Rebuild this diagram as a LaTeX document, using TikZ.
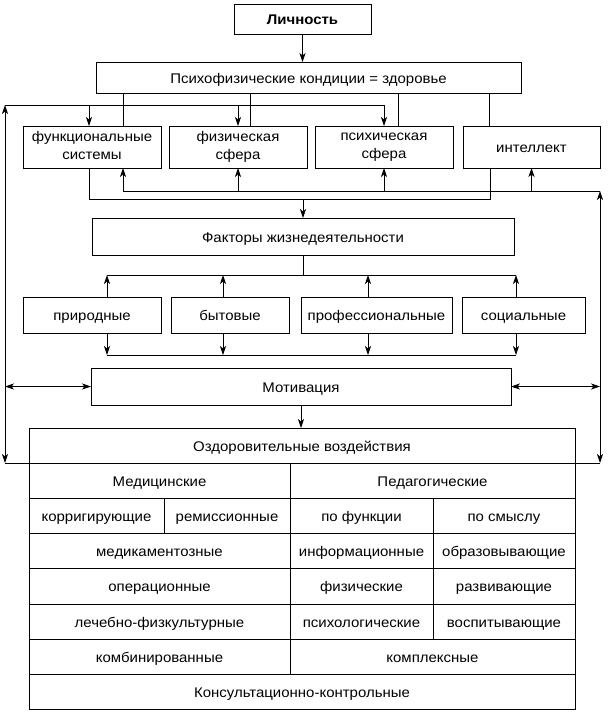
\documentclass[tikz,border=0pt]{standalone}
\usepackage{fontspec}
\setmainfont[FakeStretch=1.07]{Liberation Sans}
\usetikzlibrary{arrows.meta}
\newcommand{\bx}[6]{\node[box, minimum width={(#4-#2)*1pt}, minimum height={(#5-#3)*1pt}] (#1) at ({(#2+#4)/2},{(#3+#5)/2}) {#6};}
\newcommand{\mystrut}{\vrule height 14.5pt depth 3pt width 0pt\relax}
\begin{document}
\begin{tikzpicture}[x=1pt,y=-1pt,line width=0.8pt,
  box/.style={draw, inner sep=0pt, outer sep=0pt, align=center, font=\fontsize{14}{17.5}\selectfont,
    execute at begin node=\mystrut, execute at end node=\mystrut},
  arr/.style={-{Stealth[length=9pt,width=6pt,inset=2.5pt]}},
  arrboth/.style={{Stealth[length=9pt,width=6pt,inset=2.5pt]}-{Stealth[length=9pt,width=6pt,inset=2.5pt]}}]
\useasboundingbox (0,0) rectangle (609,716);
% boxes
\bx{lich}{234}{4}{371}{34}{\bfseries Личность}
\bx{psy}{96}{62}{521}{93}{Психофизические кондиции = здоровье}
\bx{func}{23}{126}{161}{168}{функциональные\\системы}
\bx{fiz}{169}{126}{307}{168}{физическая\\сфера}
\bx{psych}{315}{126}{453}{168}{психическая\\сфера}
\bx{intel}{463}{126}{600}{168}{интеллект}
\bx{fact}{92}{218}{514}{255}{Факторы жизнедеятельности}
\bx{prir}{23}{297}{161}{333}{природные}
\bx{byt}{171}{297}{289}{333}{бытовые}
\bx{prof}{301}{297}{452}{333}{профессиональные}
\bx{soc}{462}{297}{585}{333}{социальные}
\bx{motiv}{91}{368}{511}{405}{Мотивация}
% table
\bx{r1}{29}{428}{575}{463}{Оздоровительные воздействия}
\bx{med}{29}{463}{290}{498}{Медицинские}
\bx{ped}{290}{463}{575}{498}{Педагогические}
\bx{korr}{29}{498}{164}{533}{корригирующие}
\bx{rem}{164}{498}{290}{533}{ремиссионные}
\bx{pofunc}{290}{498}{433}{533}{по функции}
\bx{posm}{433}{498}{575}{533}{по смыслу}
\bx{medik}{29}{533}{290}{568}{медикаментозные}
\bx{inform}{290}{533}{433}{568}{информационные}
\bx{obraz}{433}{533}{575}{568}{образовывающие}
\bx{oper}{29}{568}{290}{604}{операционные}
\bx{fizich}{290}{568}{433}{604}{физические}
\bx{razv}{433}{568}{575}{604}{развивающие}
\bx{lech}{29}{604}{290}{639}{лечебно-физкультурные}
\bx{psihol}{290}{604}{433}{639}{психологические}
\bx{vosp}{433}{604}{575}{639}{воспитывающие}
\bx{komb}{29}{639}{290}{674}{комбинированные}
\bx{kompl}{290}{639}{575}{674}{комплексные}
\bx{kons}{29}{674}{575}{709}{Консультационно-контрольные}
% connectors top
\draw[arr] (lich.south) -- (lich.south |- psy.north);
\draw (psy.south -| 123,0) -- (func.north -| 123,0);
\draw (psy.south -| 250,0) -- (fiz.north -| 250,0);
\draw (psy.south -| 398,0) -- (psych.north -| 398,0);
\draw (psy.south -| 489,0) -- (intel.north -| 489,0);
% left loop
\coordinate (LT) at (5,105);
\coordinate (LB) at (5,463);
\draw[arrboth] (LT) -- (LB);
\draw (LT) -- (LT -| psych.north);
\draw[arr] (LT -| 89,0) -- (func.north -| 89,0);
\draw[arr] (LT -| fiz.north) -- (fiz.north);
\draw[arr] (LT -| psych.north) -- (psych.north);
\draw (LB) -- (r1.south west);
% right loop
\coordinate (RT) at (600,191);
\coordinate (RB) at (600,463);
\draw[arrboth] (RT) -- (RB);
\draw (RB) -- (r1.south east);
\draw (RT) -- (RT -| 123,0);
\draw[arr] (RT -| 123,0) -- (func.south -| 123,0);
\draw[arr] (RT -| fiz.south) -- (fiz.south);
\draw[arr] (RT -| psych.south) -- (psych.south);
\draw[arr] (RT -| intel.south) -- (intel.south);
% collector to factors
\coordinate (B1) at (89,199);
\coordinate (B2) at (490,199);
\draw (func.south -| B1) -- (B1) -- (B2) -- (intel.south -| B2);
\draw[arr] (fact.north |- B1) -- (fact.north);
% factors distribution
\coordinate (F1) at (107,275);
\coordinate (F2) at (516,275);
\draw (fact.south) -- (fact.south |- F1);
\draw (F1) -- (F2);
\draw[arr] (prir.north -| F1) -- (F1);
\draw[arr] (byt.north -| 223,0) -- (F1 -| 223,0);
\draw[arr] (prof.north -| 368,0) -- (F1 -| 368,0);
\draw[arr] (soc.north -| F2) -- (F2);
\coordinate (G1) at (107,355);
\coordinate (G2) at (516,355);
\draw (G1) -- (G2);
\draw[arr] (prir.south -| G1) -- (G1);
\draw[arr] (byt.south -| 223,0) -- (G1 -| 223,0);
\draw[arr] (prof.south -| 368,0) -- (G1 -| 368,0);
\draw[arr] (soc.south -| G2) -- (G2);
% motivation
\draw[arrboth] (motiv.west -| LT) -- (motiv.west);
\draw[arrboth] (motiv.east) -- (motiv.east -| RT);
\draw[arr] (motiv.south) -- (motiv.south |- r1.north);
\end{tikzpicture}
\end{document}
